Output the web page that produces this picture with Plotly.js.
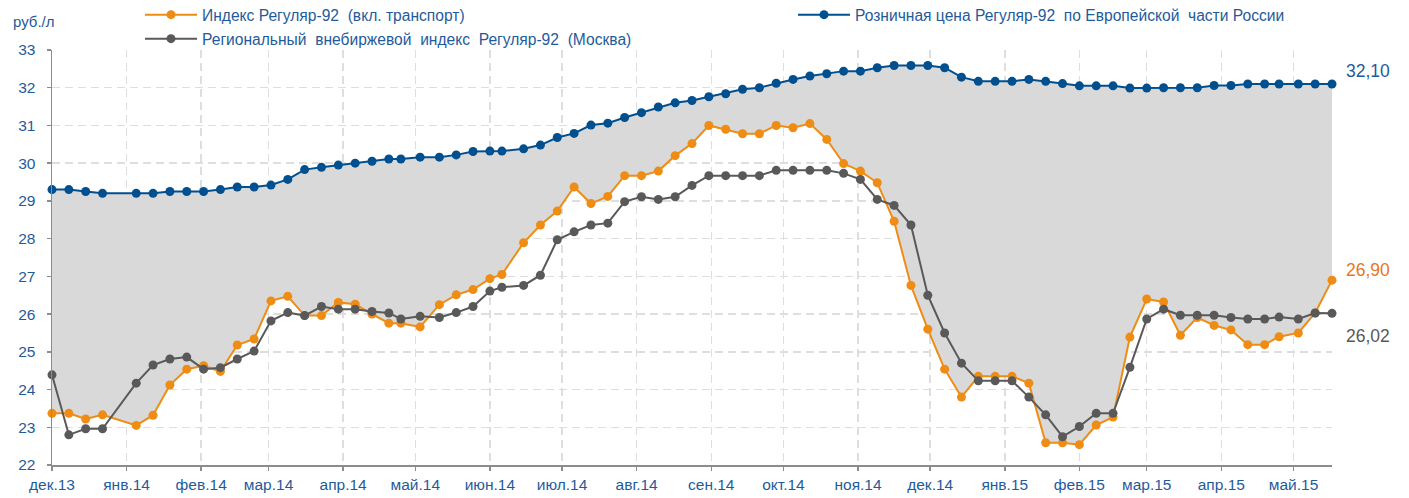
<!DOCTYPE html>
<html>
<head>
<meta charset="utf-8">
<script src="https://cdn.plot.ly/plotly-3.0.1.min.js"></script>
<style>html,body{margin:0;padding:0;background:#fff;}#chart{width:1409px;height:498px;}</style>
</head>
<body>
<div id="chart"></div>
<script>
var dates = ['2013-12-01','2013-12-08','2013-12-15','2013-12-22','2014-01-05','2014-01-12','2014-01-19','2014-01-26','2014-02-02','2014-02-09','2014-02-16','2014-02-23','2014-03-02','2014-03-09','2014-03-16','2014-03-23','2014-03-30','2014-04-06','2014-04-13','2014-04-20','2014-04-25','2014-05-03','2014-05-11','2014-05-18','2014-05-25','2014-06-01','2014-06-06','2014-06-15','2014-06-22','2014-06-29','2014-07-06','2014-07-13','2014-07-20','2014-07-27','2014-08-03','2014-08-10','2014-08-17','2014-08-24','2014-08-31','2014-09-07','2014-09-14','2014-09-21','2014-09-28','2014-10-05','2014-10-12','2014-10-19','2014-10-26','2014-11-02','2014-11-09','2014-11-16','2014-11-23','2014-11-30','2014-12-07','2014-12-14','2014-12-21','2014-12-28','2015-01-04','2015-01-11','2015-01-18','2015-01-25','2015-02-01','2015-02-08','2015-02-15','2015-02-22','2015-03-01','2015-03-08','2015-03-15','2015-03-22','2015-03-29','2015-04-05','2015-04-12','2015-04-19','2015-04-25','2015-05-03','2015-05-10','2015-05-17'];

var retailEU = [29.30,29.30,29.25,29.20,29.20,29.20,29.25,29.25,29.25,29.30,29.37,29.37,29.42,29.57,29.83,29.89,29.95,30.00,30.05,30.11,30.11,30.16,30.16,30.22,30.31,30.32,30.32,30.38,30.48,30.68,30.79,31.01,31.06,31.21,31.34,31.49,31.60,31.66,31.76,31.84,31.96,32.00,32.12,32.22,32.31,32.37,32.44,32.44,32.53,32.59,32.59,32.59,32.53,32.28,32.17,32.17,32.17,32.22,32.17,32.11,32.05,32.05,32.05,31.99,31.99,32.00,32.00,32.00,32.06,32.06,32.10,32.10,32.10,32.10,32.10,32.10];

var indexTransport = [23.37,23.37,23.22,23.33,23.05,23.32,24.12,24.54,24.63,24.48,25.18,25.34,26.35,26.47,25.96,25.96,26.31,26.26,26.00,25.76,25.76,25.66,26.25,26.51,26.65,26.94,27.05,27.89,28.36,28.73,29.37,28.93,29.12,29.67,29.67,29.79,30.20,30.52,31.00,30.90,30.78,30.78,31.00,30.94,31.05,30.63,29.99,29.79,29.48,28.46,26.76,25.60,24.54,23.80,24.35,24.35,24.35,24.17,22.59,22.59,22.54,23.06,23.27,25.39,26.40,26.32,25.44,25.91,25.70,25.58,25.19,25.19,25.40,25.50,26.03,26.90];

var indexMoscow = [24.39,22.80,22.96,22.96,24.17,24.65,24.81,24.86,24.54,24.58,24.81,25.02,25.82,26.04,25.96,26.20,26.13,26.13,26.07,26.03,25.87,25.94,25.91,26.04,26.20,26.61,26.71,26.76,27.03,27.97,28.18,28.36,28.41,28.98,29.11,29.04,29.11,29.41,29.67,29.67,29.67,29.67,29.81,29.81,29.81,29.81,29.73,29.57,29.04,28.88,28.36,26.50,25.50,24.70,24.23,24.23,24.23,23.80,23.33,22.75,23.02,23.37,23.37,24.59,25.87,26.13,25.97,25.97,25.97,25.91,25.87,25.87,25.92,25.87,26.03,26.02];

var monthTicks = ['2013-12-01','2014-01-01','2014-02-01','2014-03-01','2014-04-01','2014-05-01','2014-06-01','2014-07-01','2014-08-01','2014-09-01','2014-10-01','2014-11-01','2014-12-01','2015-01-01','2015-02-01','2015-03-01','2015-04-01','2015-05-01'];
var monthLabels = ['дек.13','янв.14','фев.14','мар.14','апр.14','май.14','июн.14','июл.14','авг.14','сен.14','окт.14','ноя.14','дек.14','янв.15','фев.15','мар.15','апр.15','май.15'];

var names = {
  retail: 'Розничная цена Регуляр-92\u00a0 по Европейской\u00a0 части России',
  transport: 'Индекс Регуляр-92\u00a0 (вкл. транспорт)',
  moscow: 'Региональный\u00a0 внебиржевой\u00a0 индекс\u00a0 Регуляр-92\u00a0 (Москва)'
};

var BLUE = '#004f8f', ORANGE = '#ee8c14', GRAY = '#595959', TXT = '#1f5b9b';
var FONT = 'Liberation Sans, Arial, sans-serif';

function fmt(v){ return v.toFixed(2).replace('.', ','); }

var traces = [
  {x: dates, y: retailEU, name: names.retail, mode: 'lines+markers', legend: 'legend2',
   line: {color: BLUE, width: 2}, marker: {color: BLUE, size: 9}, cliponaxis: false},
  // grey band between retail price and transport index
  {x: dates, y: indexTransport, mode: 'none', fill: 'tonexty', fillcolor: '#d9d9d9',
   showlegend: false, hoverinfo: 'skip'},
  {x: dates, y: indexTransport, name: names.transport, mode: 'lines+markers', legend: 'legend',
   line: {color: ORANGE, width: 2}, marker: {color: ORANGE, size: 9}, cliponaxis: false},
  {x: dates, y: indexMoscow, name: names.moscow, mode: 'lines+markers', legend: 'legend3',
   line: {color: GRAY, width: 2}, marker: {color: GRAY, size: 9}, cliponaxis: false}
];

function legendAt(xPx, centerPx){
  return {
    x: (xPx - 52) / 1280, xanchor: 'left',
    y: 1 + (50 - centerPx) / 415, yanchor: 'middle',
    orientation: 'v', itemwidth: 52, bgcolor: 'rgba(0,0,0,0)',
    borderwidth: 0,
    font: {family: FONT, size: 15.6, color: TXT}
  };
}

var last = dates.length - 1;
var layout = {
  width: 1409, height: 498,
  margin: {l: 52, r: 77, t: 50, b: 33, autoexpand: false},
  paper_bgcolor: '#fff', plot_bgcolor: '#fff',
  font: {family: FONT, size: 15, color: TXT},
  showlegend: true,
  xaxis: {
    type: 'date', range: [dates[0], dates[last]],
    tickmode: 'array', tickvals: monthTicks, ticktext: monthLabels,
    ticks: 'outside', ticklen: 4, tickcolor: '#8c8c8c', tickwidth: 1.5,
    showline: true, linecolor: '#8c8c8c', linewidth: 2,
    showgrid: true, gridcolor: '#dedede', gridwidth: 1.5, griddash: '8px,5px',
    zeroline: false, tickfont: {family: FONT, size: 15.5, color: TXT}
  },
  yaxis: {
    range: [22, 33], tick0: 22, dtick: 1,
    ticks: 'outside', ticklen: 4, tickcolor: '#8c8c8c', tickwidth: 1.5,
    showline: true, linecolor: '#8c8c8c', linewidth: 1.5,
    showgrid: true, gridcolor: '#dedede', gridwidth: 1.5, griddash: '8px,5px',
    zeroline: false, ticklabelstandoff: 8,
    tickfont: {family: FONT, size: 15.5, color: TXT}
  },
  legend: legendAt(140, 15),
  legend3: legendAt(140, 39),
  legend2: legendAt(793, 15),
  annotations: [
    {xref: 'paper', yref: 'paper', x: (11 - 52) / 1280, y: 1 + 29 / 415, xanchor: 'left', yanchor: 'middle',
     text: 'руб./л', showarrow: false, font: {family: FONT, size: 15, color: TXT}},
    {x: dates[last], y: retailEU[last], xanchor: 'left', yanchor: 'middle', xshift: 12, yshift: 13,
     text: fmt(retailEU[last]), showarrow: false, font: {family: FONT, size: 17.5, color: TXT}},
    {x: dates[last], y: indexTransport[last], xanchor: 'left', yanchor: 'middle', xshift: 12, yshift: 10,
     text: fmt(indexTransport[last]), showarrow: false, font: {family: FONT, size: 17.5, color: '#e8771a'}},
    {x: dates[last], y: indexMoscow[last], xanchor: 'left', yanchor: 'middle', xshift: 12, yshift: -23,
     text: fmt(indexMoscow[last]), showarrow: false, font: {family: FONT, size: 17.5, color: GRAY}}
  ]
};

Plotly.newPlot('chart', traces, layout, {displayModeBar: false, staticPlot: true});
</script>
</body>
</html>
